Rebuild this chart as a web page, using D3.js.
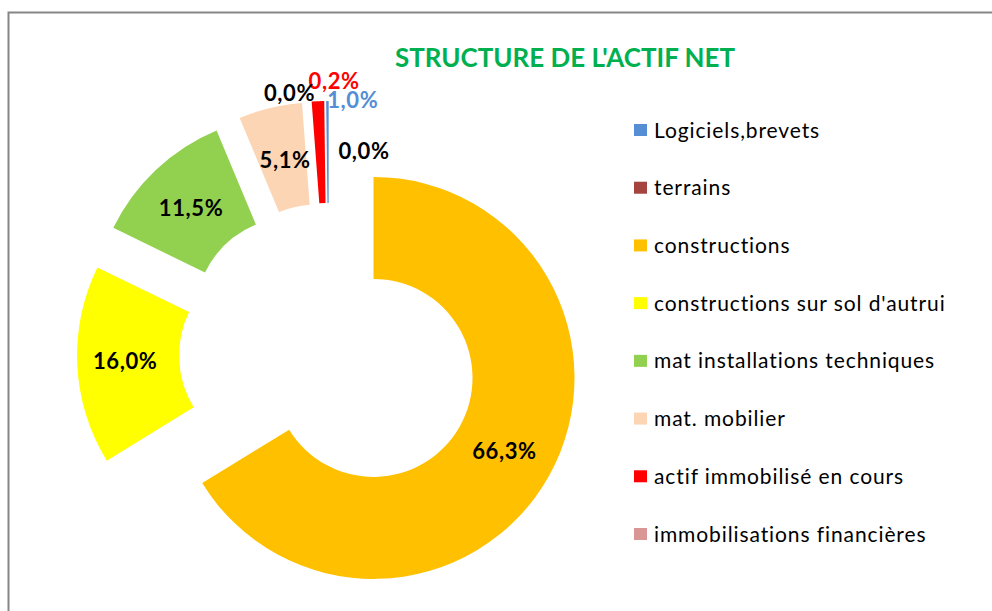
<!DOCTYPE html>
<html>
<head>
<meta charset="utf-8">
<script src="https://cdn.jsdelivr.net/npm/d3@7"></script>
<style>
	body { margin: 0; background: #fff; }
	svg { display: block; }
</style>
</head>
<body>
<svg class="chart"></svg>
<script>

// Data
var categories = [ "Logiciels,brevets", "terrains", "constructions", "constructions sur sol d'autrui",
	"mat installations techniques", "mat. mobilier", "actif immobilisé en cours", "immobilisations financières" ];
// slice sizes as drawn in the picture (%)
var values = [ 0.2, 0, 66.3, 16.0, 11.5, 5.1, 1.0, 0 ];
// data label texts as printed on the chart
var labelTexts = [ "1,0%", "0,0%", "66,3%", "16,0%", "11,5%", "5,1%", "0,2%", "0,0%" ];
var colors = [ "#558ED5", "#A5443F", "#FFC000", "#FFFF00", "#92D050", "#FCD5B5", "#FF0000", "#D99694" ];
var labelColors = [ "#558ED5", "#000", "#000", "#000", "#000", "#000", "#FF0000", "#000" ];
// labels that were dragged by hand in the original
var labelNudge = [ [25, -52], [35, -1], [0, 0], [-3, -2], [0, 1], [3, 3], [14, -71], [-37, -59] ];

var svgWidth = 992,
	svgHeight = 611;

var chart = d3.select( ".chart" )
	.attr( "width", svgWidth )
	.attr( "height", svgHeight );

// frame
chart.append( "rect" )
	.attr( "x", 8.5 )
	.attr( "y", 12.5 )
	.attr( "width", 1000 )
	.attr( "height", 700 )
	.attr( "fill", "none" )
	.attr( "stroke", "#868686" )
	.attr( "stroke-width", 2 );

chart.append( "text" )
	.attr( "x", 565 )
	.attr( "y", 67 )
	.attr( "text-anchor", "middle" )
	.attr( "font-family", "Lato, 'Open Sans', sans-serif" )
	.attr( "font-weight", "bold" )
	.attr( "font-size", 26 )
	.attr( "fill", "#00B050" )
	.attr( "textLength", 340 )
	.attr( "lengthAdjust", "spacingAndGlyphs" )
	.text( "STRUCTURE DE L'ACTIF NET" );

var cx = 329,
	cy = 353,
	outerR = 201,
	innerR = 99,
	explode = 51;

// constructions starts at 12 o'clock
var total = d3.sum( values );
var start = -( values[0] + values[1] ) / total * 2 * Math.PI;

var pie = d3.pie()
	.sort( null )
	.value( function(d) { return d; } )
	.startAngle( start )
	.endAngle( start + 2 * Math.PI );

var arc = d3.arc()
	.innerRadius( innerR )
	.outerRadius( outerR );

var labelArc = d3.arc()
	.innerRadius( (innerR + outerR) / 2 )
	.outerRadius( (innerR + outerR) / 2 );

var slices = pie( values );

function shift( d ) {
	var mid = (d.startAngle + d.endAngle) / 2;
	return [ cx + explode * Math.sin( mid ), cy - explode * Math.cos( mid ) ];
}

var g = chart.append( "g" );

g.selectAll( ".slice" )
	.data( slices )
	.enter()
	.append( "path" )
	.classed( "slice", true )
	.attr( "transform", function(d) { var p = shift( d ); return "translate(" + p[0] + "," + p[1] + ")"; } )
	.attr( "fill", function(d, i) { return colors[i]; } )
	.attr( "d", arc );

g.selectAll( ".lbl" )
	.data( slices )
	.enter()
	.append( "text" )
	.classed( "lbl", true )
	.attr( "x", function(d, i) { return shift( d )[0] + labelArc.centroid( d )[0] + labelNudge[i][0]; } )
	.attr( "y", function(d, i) { return shift( d )[1] + labelArc.centroid( d )[1] + labelNudge[i][1]; } )
	.attr( "dy", "0.36em" )
	.attr( "text-anchor", "middle" )
	.attr( "font-family", "Lato, 'Open Sans', sans-serif" )
	.attr( "font-weight", "bold" )
	.attr( "font-size", 22 )
	.attr( "letter-spacing", 0.6 )
	.attr( "fill", function(d, i) { return labelColors[i]; } )
	.text( function(d, i) { return labelTexts[i]; } );

// legend
var legendY = d3.scalePoint()
	.domain( categories )
	.range( [ 130, 534 ] );

var legend = chart.selectAll( ".legend" )
	.data( categories )
	.enter()
	.append( "g" )
	.classed( "legend", true )
	.attr( "transform", function(d) { return "translate(634," + legendY( d ) + ")"; } );

legend.append( "rect" )
	.attr( "x", 0 )
	.attr( "y", -6 )
	.attr( "width", 13 )
	.attr( "height", 12 )
	.attr( "fill", function(d, i) { return colors[i]; } );

legend.append( "text" )
	.attr( "x", 20 )
	.attr( "dy", "0.36em" )
	.attr( "font-family", "Lato, 'Open Sans', sans-serif" )
	.attr( "font-size", 21 )
	.attr( "letter-spacing", 0.9 )
	.attr( "fill", "#000" )
	.text( function(d) { return d; } );

</script>
</body>
</html>
